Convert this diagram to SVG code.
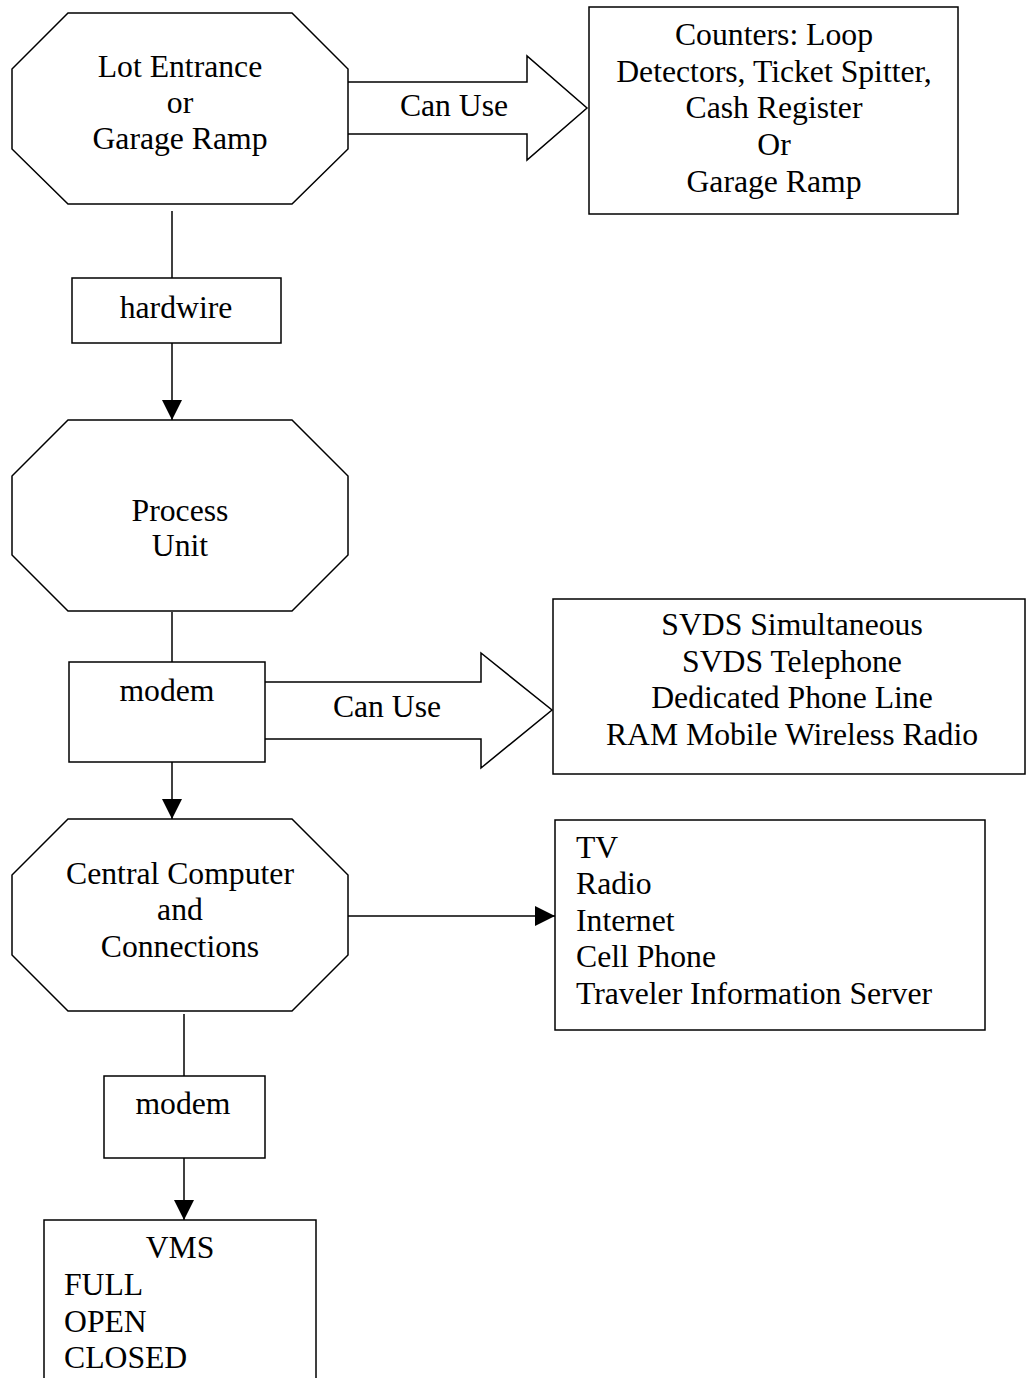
<svg xmlns="http://www.w3.org/2000/svg" width="1026" height="1378" viewBox="0 0 1026 1378">
  <style>
    .shape { fill: #ffffff; stroke: #000000; stroke-width: 1.5; }
    .wire { fill: none; stroke: #000000; stroke-width: 1.5; }
    text { font-family: "Liberation Serif", "Times New Roman", serif; font-size: 31.7px; fill: #000000; }
    .c { text-anchor: middle; }
  </style>
  <defs>
    <marker id="head" markerUnits="userSpaceOnUse" markerWidth="20" markerHeight="20" refX="20" refY="10" orient="auto">
      <path d="M0,0 L20,10 L0,20 Z" fill="#000000"/>
    </marker>
  </defs>
  <rect width="1026" height="1378" fill="#ffffff"/>

  <!-- connectors -->
  <g id="connectors">
    <line class="wire" x1="172" y1="211" x2="172" y2="278"/>
    <line class="wire" x1="172" y1="343" x2="172" y2="420" marker-end="url(#head)"/>
    <line class="wire" x1="172" y1="612" x2="172" y2="662"/>
    <line class="wire" x1="172" y1="762" x2="172" y2="819" marker-end="url(#head)"/>
    <line class="wire" x1="348" y1="916" x2="555" y2="916" marker-end="url(#head)"/>
    <line class="wire" x1="184" y1="1014" x2="184" y2="1076"/>
    <line class="wire" x1="184" y1="1158" x2="184" y2="1220" marker-end="url(#head)"/>
    <!-- block arrows -->
    <g id="uses-counters">
      <polygon class="shape" points="347,82 527,82 527,56 587,108 527,160 527,134 347,134"/>
      <text class="c" x="454" y="116">Can Use</text>
    </g>
    <g id="uses-links">
      <polygon class="shape" points="264,682 481,682 481,653 552,710 481,768 481,739 264,739"/>
      <text class="c" x="387" y="717">Can Use</text>
    </g>
  </g>

  <!-- nodes -->
  <g id="lot-entrance">
    <polygon class="shape" points="68,13 292,13 348,69 348,149 292,204 68,204 12,149 12,69"/>
    <text class="c" x="180" y="77">Lot Entrance</text>
    <text class="c" x="180" y="113">or</text>
    <text class="c" x="180" y="149">Garage Ramp</text>
  </g>

  <g id="counters">
    <rect class="shape" x="589" y="7" width="369" height="207"/>
    <text class="c" x="774" y="45">Counters: Loop</text>
    <text class="c" x="774" y="82">Detectors, Ticket Spitter,</text>
    <text class="c" x="774" y="118">Cash Register</text>
    <text class="c" x="774" y="155">Or</text>
    <text class="c" x="774" y="192">Garage Ramp</text>
  </g>

  <g id="hardwire">
    <rect class="shape" x="72" y="278" width="209" height="65"/>
    <text class="c" x="176" y="318">hardwire</text>
  </g>

  <g id="process-unit">
    <polygon class="shape" points="68,420 292,420 348,476 348,555 292,611 68,611 12,555 12,476"/>
    <text class="c" x="180" y="521">Process</text>
    <text class="c" x="180" y="556">Unit</text>
  </g>

  <g id="modem-1">
    <rect class="shape" x="69" y="662" width="196" height="100"/>
    <text class="c" x="167" y="701">modem</text>
  </g>

  <g id="link-options">
    <rect class="shape" x="553" y="599" width="472" height="175"/>
    <text class="c" x="792" y="635">SVDS Simultaneous</text>
    <text class="c" x="792" y="672">SVDS Telephone</text>
    <text class="c" x="792" y="708">Dedicated Phone Line</text>
    <text class="c" x="792" y="745">RAM Mobile Wireless Radio</text>
  </g>

  <g id="central-computer">
    <polygon class="shape" points="68,819 292,819 348,875 348,955 292,1011 68,1011 12,955 12,875"/>
    <text class="c" x="180" y="884">Central Computer</text>
    <text class="c" x="180" y="920">and</text>
    <text class="c" x="180" y="957">Connections</text>
  </g>

  <g id="outlets">
    <rect class="shape" x="555" y="820" width="430" height="210"/>
    <text x="576" y="858">TV</text>
    <text x="576" y="894">Radio</text>
    <text x="576" y="931">Internet</text>
    <text x="576" y="967">Cell Phone</text>
    <text x="576" y="1004">Traveler Information Server</text>
  </g>

  <g id="modem-2">
    <rect class="shape" x="104" y="1076" width="161" height="82"/>
    <text class="c" x="183" y="1114">modem</text>
  </g>

  <g id="vms">
    <rect class="shape" x="44" y="1220" width="272" height="170"/>
    <text class="c" x="180" y="1258">VMS</text>
    <text x="64" y="1295">FULL</text>
    <text x="64" y="1332">OPEN</text>
    <text x="64" y="1368">CLOSED</text>
  </g>
</svg>
